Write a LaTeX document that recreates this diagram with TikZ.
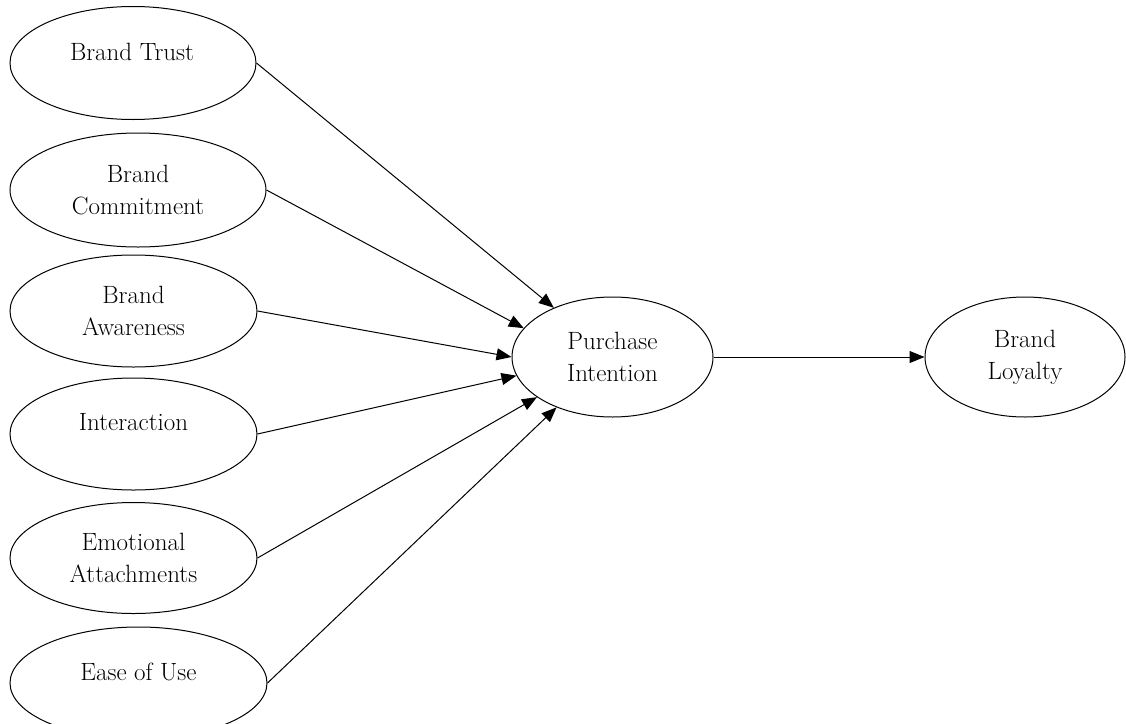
\documentclass[tikz,border=0pt]{standalone}
\usetikzlibrary{shapes.geometric,arrows.meta}
\begin{document}
\begin{tikzpicture}[x=1pt,y=-1pt,
  ell/.style={draw, ellipse, line width=1pt, inner sep=0pt, align=center, font=\fontsize{25}{32}\selectfont},
  txt/.style={inner sep=0pt, font=\fontsize{25}{32}\selectfont},
  arr/.style={line width=1pt, -{Triangle[length=15pt,width=12pt]}}]
\clip (0,0) rectangle (1126,723);
% left column
\node[ell, minimum width=246pt, minimum height=113pt] (bt) at (133,63) {};
\node[txt] (btt) at (132,52) {Brand Trust};
\node[ell, minimum width=256pt, minimum height=114pt] (bc) at (138,190) {Brand\\Commitment};
\node[ell, minimum width=247pt, minimum height=112pt] (ba) at (133.5,311) {Brand\\Awareness};
\node[ell, minimum width=247pt, minimum height=112pt] (in) at (133.5,434) {};
\node[txt] (int) at (133.5,422) {Interaction};
\node[ell, minimum width=247pt, minimum height=111pt] (ea) at (133.5,558) {Emotional\\Attachments};
\node[ell, minimum width=257pt, minimum height=112pt] (eu) at (138.5,683) {};
\node[txt] (eut) at (138.5,672) {Ease of Use};
% right
\node[ell, minimum width=201pt, minimum height=120pt] (pi) at (612.5,357) {Purchase\\Intention};
\node[ell, minimum width=200pt, minimum height=120pt] (bl) at (1025,357) {Brand\\Loyalty};
% connectors
\draw[arr] (bt.east) -- (pi.140.8);
\draw[arr] (bc.east) -- (pi.162);
\draw[arr] (ba.east) -- (pi.180);
\draw[arr] (in.east) -- (pi.191.6);
\draw[arr] (ea.east) -- (pi.208.6);
\draw[arr] (eu.east) -- (pi.222.9);
\draw[arr] (pi.east) -- (bl.west);
\end{tikzpicture}
\end{document}
